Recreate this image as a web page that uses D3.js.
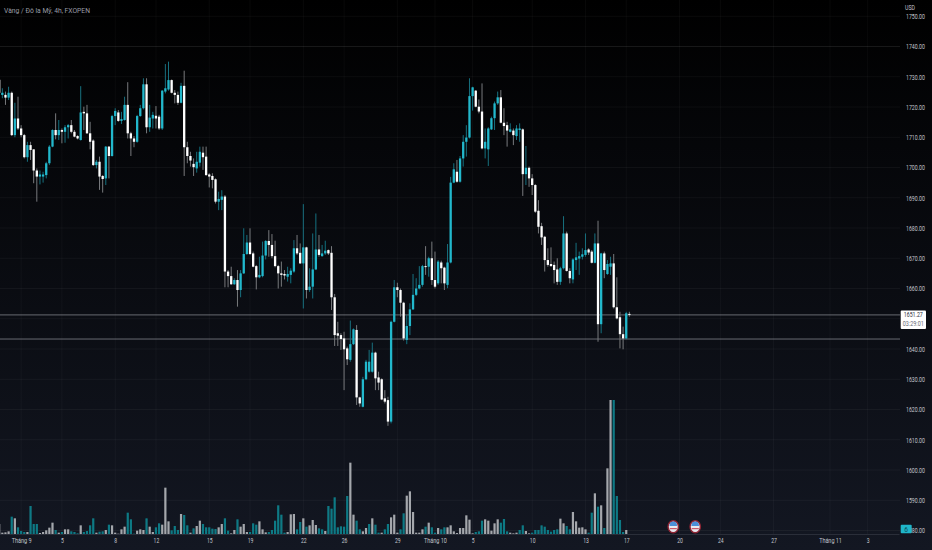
<!DOCTYPE html>
<html>
<head>
<meta charset="utf-8">
<title>Vàng / Đô la Mỹ, 4h, FXOPEN</title>
<script src="https://cdn.jsdelivr.net/npm/d3@7"></script>
<style>
html, body { margin: 0; padding: 0; background: #000; overflow: hidden; }
text { font-family: Roboto, "Liberation Sans", sans-serif; }
</style>
</head>
<body>
<svg id="chart" width="932" height="550"></svg>
<script>
// 4h candles
var opens = [
1729.0,1724.0,1724.0,1723.1,1724.7,1710.7,1716.2,1712.9,1710.7,1703.4,
1707.4,1706.0,1699.0,1697.0,1697.0,1697.5,1701.4,1706.9,1712.4,1710.7,
1712.4,1711.8,1713.3,1714.0,1711.8,1710.4,1709.1,1718.4,1717.9,1711.3,
1708.9,1700.8,1701.9,1697.2,1696.4,1706.9,1703.8,1717.0,1718.2,1715.4,
1715.7,1720.7,1711.3,1709.6,1708.5,1717.0,1719.6,1727.5,1713.3,1716.2,
1717.1,1716.8,1712.9,1725.1,1725.8,1728.9,1724.7,1724.0,1721.4,1727.0,
1706.7,1703.8,1701.2,1699.7,1701.6,1704.9,1703.6,1697.7,1697.2,1696.1,
1688.7,1689.3,1690.4,1665.6,1664.1,1661.4,1662.8,1659.5,1665.0,1671.4,
1675.2,1671.6,1667.4,1663.7,1664.1,1670.9,1675.7,1674.4,1670.7,1667.4,
1665.0,1664.8,1663.9,1664.5,1665.6,1673.3,1671.8,1668.3,1673.6,1659.5,
1660.6,1666.3,1672.9,1670.7,1671.6,1672.7,1671.8,1657.1,1645.2,1644.6,
1643.5,1640.2,1636.4,1641.6,1646.3,1624.0,1620.9,1630.0,1632.5,1632.5,
1638.8,1630.6,1630.0,1623.7,1623.1,1616.0,1649.0,1660.4,1659.5,1655.3,
1643.0,1647.6,1653.1,1657.9,1660.0,1661.2,1667.4,1667.2,1670.0,1662.8,
1661.7,1668.6,1666.9,1661.2,1668.6,1695.0,1698.6,1695.3,1703.0,1708.5,
1709.9,1723.6,1725.4,1720.1,1718.5,1706.3,1706.0,1712.6,1716.3,1721.2,
1723.2,1714.8,1714.0,1711.8,1712.2,1710.4,1712.4,1712.6,1697.8,1699.9,
1696.4,1694.2,1685.7,1680.6,1677.1,1669.4,1668.1,1667.8,1666.3,1662.2,
1666.7,1678.2,1665.8,1663.0,1669.4,1669.9,1670.5,1671.1,1672.9,1672.2,
1668.5,1674.9,1648.2,1671.6,1664.8,1667.2,1668.3,1653.8,1650.5,1644.9,1643.5,1651.6];
var highs = [
1732.4,1726.2,1725.1,1726.7,1725.1,1721.4,1723.4,1714.0,1711.1,1708.5,
1708.5,1706.0,1699.7,1699.0,1698.6,1701.9,1707.4,1712.6,1717.9,1715.7,
1712.9,1714.0,1714.4,1715.7,1712.4,1710.7,1726.9,1720.1,1720.7,1715.1,
1709.3,1702.5,1703.6,1697.5,1707.1,1707.1,1717.4,1719.6,1719.0,1718.4,
1723.4,1728.2,1711.8,1710.4,1717.4,1720.7,1729.5,1729.5,1720.7,1718.4,
1720.3,1717.4,1725.6,1734.2,1735.0,1729.1,1725.6,1725.1,1728.0,1732.0,
1708.5,1705.2,1703.0,1705.2,1706.9,1706.9,1706.9,1698.1,1698.1,1696.4,
1692.0,1692.5,1690.9,1666.1,1667.2,1663.4,1666.1,1666.1,1679.9,1677.7,
1679.9,1672.2,1667.8,1670.5,1675.5,1676.0,1679.3,1678.0,1675.8,1667.8,
1668.9,1666.1,1667.2,1666.7,1676.0,1677.7,1674.9,1687.9,1673.8,1666.7,
1678.2,1684.8,1677.7,1674.4,1675.8,1672.9,1674.0,1658.2,1649.0,1645.2,
1645.7,1640.8,1649.4,1646.8,1647.9,1624.2,1630.8,1636.4,1639.7,1642.1,
1639.1,1632.5,1630.3,1626.4,1624.2,1649.4,1662.8,1661.9,1660.0,1655.6,
1651.2,1655.1,1664.8,1663.4,1667.4,1667.8,1674.0,1670.5,1675.5,1672.2,
1669.4,1669.2,1667.2,1674.7,1696.9,1701.4,1702.5,1703.8,1710.7,1714.0,
1729.5,1726.7,1725.6,1722.5,1727.8,1712.9,1713.3,1716.8,1721.8,1725.1,
1725.6,1719.6,1715.1,1714.6,1712.9,1714.0,1714.6,1712.9,1707.1,1700.3,
1697.8,1694.5,1689.2,1681.7,1677.4,1673.3,1673.6,1668.9,1670.0,1667.2,
1683.9,1678.8,1666.7,1670.0,1675.1,1672.2,1673.3,1678.2,1673.3,1672.7,
1678.2,1682.4,1671.8,1672.2,1669.4,1670.5,1671.4,1663.7,1652.3,1647.4,1652.3,1652.3];
var lows = [
1724.5,1722.9,1720.7,1722.3,1710.4,1710.0,1712.4,1710.0,1703.0,1701.9,
1702.5,1694.8,1688.7,1694.4,1695.0,1696.4,1700.8,1706.7,1709.3,1709.1,
1708.0,1708.2,1709.6,1711.3,1710.0,1709.3,1708.9,1712.4,1711.1,1706.0,
1700.5,1699.7,1692.6,1691.7,1694.2,1696.4,1703.6,1714.0,1715.1,1714.4,
1715.5,1709.6,1703.8,1706.7,1708.2,1716.8,1719.2,1711.3,1711.8,1712.9,
1712.9,1712.4,1712.4,1724.5,1725.4,1724.5,1721.2,1720.7,1721.2,1697.2,
1701.4,1700.3,1697.2,1698.3,1700.3,1699.2,1697.2,1693.4,1693.1,1688.1,
1685.9,1685.9,1660.4,1660.4,1661.2,1661.2,1654.0,1657.1,1664.8,1671.1,
1671.1,1667.0,1659.7,1663.4,1663.7,1669.6,1670.5,1670.0,1667.0,1660.0,
1660.6,1663.0,1662.3,1661.7,1665.2,1671.1,1668.1,1653.4,1656.7,1658.9,
1656.7,1666.1,1670.5,1670.5,1671.1,1671.1,1652.9,1641.0,1641.0,1639.7,
1626.4,1634.7,1635.8,1641.3,1621.5,1620.9,1620.7,1629.7,1632.2,1632.2,
1626.4,1626.4,1623.1,1622.0,1614.6,1615.4,1648.8,1657.1,1650.7,1642.8,
1641.6,1644.6,1652.9,1657.5,1659.7,1660.6,1664.5,1663.9,1661.2,1660.0,
1661.2,1661.7,1659.5,1660.1,1668.3,1694.8,1695.0,1695.0,1700.3,1703.6,
1709.6,1718.8,1719.9,1717.9,1706.0,1703.0,1700.5,1712.4,1712.4,1720.7,
1714.6,1710.7,1706.9,1711.6,1707.4,1709.1,1708.5,1690.6,1694.2,1693.6,
1690.9,1685.0,1678.2,1674.4,1665.6,1667.2,1667.2,1661.7,1661.2,1661.2,
1666.3,1665.6,1661.7,1661.7,1666.1,1664.5,1669.6,1670.5,1671.1,1668.3,
1668.3,1642.4,1645.2,1663.4,1664.5,1664.5,1653.4,1649.8,1640.2,1639.9,1643.2,1650.7];
var closes = [
1724.7,1724.7,1723.1,1724.7,1710.7,1716.2,1712.9,1710.7,1703.4,1707.4,
1705.8,1699.0,1697.0,1697.7,1697.7,1701.4,1706.9,1712.4,1710.7,1712.4,
1711.8,1713.3,1714.0,1711.8,1710.2,1709.6,1718.2,1717.9,1711.3,1708.5,
1700.8,1701.9,1697.0,1696.2,1706.9,1703.8,1717.0,1718.7,1715.4,1716.0,
1720.7,1711.3,1709.6,1708.5,1717.0,1719.6,1727.5,1713.3,1716.5,1717.4,
1716.2,1712.9,1725.4,1726.2,1728.9,1724.7,1724.0,1721.4,1727.0,1706.7,
1703.8,1702.3,1700.1,1701.9,1705.2,1703.4,1697.5,1697.0,1695.9,1688.7,
1689.6,1690.4,1665.6,1664.1,1661.4,1662.8,1659.5,1665.0,1671.4,1675.2,
1671.4,1667.2,1663.7,1664.5,1670.9,1675.7,1674.4,1670.7,1667.4,1665.0,
1664.5,1664.3,1664.8,1665.9,1673.3,1671.6,1668.3,1673.6,1659.5,1660.6,
1666.3,1672.9,1671.1,1671.6,1672.5,1671.6,1657.1,1644.6,1644.4,1643.3,
1639.9,1636.6,1641.6,1646.5,1624.0,1622.0,1630.0,1635.8,1635.8,1638.8,
1630.3,1628.9,1623.3,1622.6,1616.0,1649.0,1660.4,1659.5,1655.3,1643.5,
1647.6,1653.1,1657.9,1660.0,1661.2,1667.4,1667.1,1670.0,1662.8,1660.6,
1668.9,1666.7,1661.7,1668.6,1695.0,1699.4,1695.3,1703.0,1708.5,1709.9,
1723.6,1726.5,1720.1,1718.5,1706.3,1708.5,1712.9,1716.3,1721.2,1723.2,
1714.8,1713.7,1712.2,1712.6,1710.7,1712.9,1712.9,1697.8,1699.9,1696.4,
1694.2,1685.4,1680.4,1676.9,1669.4,1667.8,1667.4,1666.1,1662.2,1666.7,
1678.2,1665.8,1663.4,1669.6,1670.3,1670.7,1671.3,1672.7,1671.9,1668.5,
1674.9,1648.2,1671.6,1666.1,1668.1,1668.3,1653.8,1650.1,1644.9,1643.5,1651.8,1651.27];

// volume (relative units) and whether its bar is teal (1) or grey (0)
var volumes = [
30,4,5,8,52,47,20,9,6,6,84,30,30,3,6,11,19,34,12,4,
6,14,14,8,6,2,26,6,9,26,47,4,7,8,12,28,26,4,1,14,
22,64,44,1,10,14,12,47,22,6,20,32,28,139,38,11,24,12,60,57,
26,4,17,24,40,30,20,20,16,15,20,30,47,10,2,12,44,22,30,6,
6,32,28,38,14,5,6,12,40,86,58,4,6,59,60,14,36,47,22,26,
42,27,17,14,9,84,76,110,20,23,22,114,214,58,40,14,8,18,30,47,
28,4,4,14,30,50,58,4,14,62,115,128,66,4,4,14,22,34,20,4,
18,14,20,20,26,8,3,18,18,56,43,2,6,8,40,44,40,10,32,44,
34,45,8,4,2,4,12,26,9,2,4,12,12,26,22,12,7,12,14,46,
32,24,14,66,38,19,20,14,4,64,122,82,86,18,197,402,402,114,42,6,12,0];
var volumeTeal = [
0,0,0,0,1,0,1,1,1,0,1,1,1,0,0,0,0,0,1,0,
1,0,0,1,1,1,0,1,1,1,1,0,1,1,0,1,0,0,0,0,
0,1,1,1,0,0,0,1,0,0,1,1,0,0,0,1,1,1,0,1,
1,0,1,0,0,1,1,1,1,1,0,0,1,1,0,0,1,0,0,0,
1,1,1,0,0,0,1,1,1,1,1,1,0,0,0,1,1,0,1,0,
0,0,1,1,0,1,1,1,1,1,1,1,0,0,1,1,0,0,1,0,
1,1,0,1,1,0,0,0,1,1,0,0,0,0,0,0,1,0,1,1,
0,1,1,0,0,0,0,0,0,0,0,0,1,1,1,0,0,0,0,0,
1,1,1,0,0,0,1,1,0,0,1,1,1,1,1,1,1,1,1,0,
0,1,1,0,0,0,0,0,1,1,0,1,0,1,0,0,1,1,1,1,0,0];

// 1650 has a grid line but its label sits behind the price tag
var gridPrices = [1750,1740,1730,1720,1710,1700,1690,1680,1670,1660,1650,1640,1630,1620,1610,1600,1590,1580];
var priceTicks = [1750,1740,1730,1720,1710,1700,1690,1680,1670,1660,1640,1630,1620,1610,1600,1590,1580];
var timeTickBars = [7,20,37,50,67,80,97,110,127,139,151,170,187,200,217,230,247,265,277];
var timeTickLabels = ["Tháng 9","5","8","12","15","19","22","26","29","Tháng 10","5","10","13","17","20","24","27","Tháng 11","3"];
var lastPrice = 1651.27;
var levelPrice = 1643.3;
var eventBars = [215,222];

var svg = d3.select("#chart");
var width = 932, height = 550, plotRight = 900, plotBottom = 534;

var x = d3.scaleLinear().domain([0,287]).range([-0.8,899]);
var y = d3.scaleLinear().domain([1580,1750]).range([530.5,16.25]);
var v = d3.scaleLinear().domain([0,402]).range([plotBottom,400]);

var defs = svg.append("defs");
var bg = defs.append("linearGradient").attr("id","bg").attr("x1",0).attr("x2",0).attr("y1",0).attr("y2",1);
bg.append("stop").attr("offset","0%").attr("stop-color","#000000");
bg.append("stop").attr("offset","100%").attr("stop-color","#131722");
defs.append("filter").attr("id","soft").append("feGaussianBlur").attr("stdDeviation",0.3);
defs.append("clipPath").attr("id","plot").append("rect").attr("width",plotRight).attr("height",plotBottom);

svg.append("rect").attr("width",width).attr("height",height).attr("fill","url(#bg)");

// grid
var grid = svg.append("g").attr("clip-path","url(#plot)");
grid.selectAll(".h").data(gridPrices).enter().append("line")
	.attr("x1",0).attr("x2",plotRight)
	.attr("y1",function(d){return y(d)}).attr("y2",function(d){return y(d)})
	.attr("stroke",function(d){return d == 1740 ? "rgba(255,255,255,0.09)" : "rgba(255,255,255,0.045)"});
grid.selectAll(".v").data(timeTickBars).enter().append("line")
	.attr("y1",0).attr("y2",plotBottom)
	.attr("x1",function(d){return x(d)}).attr("x2",function(d){return x(d)})
	.attr("stroke","rgba(255,255,255,0.035)");

// volume
var idx = d3.range(opens.length);
var marks = svg.append("g").attr("clip-path","url(#plot)").attr("filter","url(#soft)");
marks.selectAll(".vol").data(idx).enter().append("rect")
	.attr("x",function(i){return x(i)-1.1})
	.attr("width",2.2)
	.attr("y",function(i){return v(volumes[i])})
	.attr("height",function(i){return plotBottom-v(volumes[i])})
	.attr("fill",function(i){return volumeTeal[i] ? "#0f7a85" : "#a4a7ac"});

// level lines
marks.selectAll(".level").data([lastPrice,levelPrice]).enter().append("line")
	.attr("x1",0).attr("x2",plotRight)
	.attr("y1",function(d){return y(d)}).attr("y2",function(d){return y(d)})
	.attr("stroke","#a6a8ae").attr("stroke-width",0.6);

// candles
marks.selectAll(".wick").data(idx).enter().append("line")
	.attr("x1",function(i){return x(i)}).attr("x2",function(i){return x(i)})
	.attr("y1",function(i){return y(highs[i])}).attr("y2",function(i){return y(lows[i])})
	.attr("stroke",function(i){return closes[i] >= opens[i] ? "#16707f" : "#77797c"})
	.attr("stroke-width",1);
marks.selectAll(".body").data(idx).enter().append("rect")
	.attr("x",function(i){return x(i)-1.15})
	.attr("width",2.3)
	.attr("y",function(i){return y(Math.max(opens[i],closes[i]))})
	.attr("height",function(i){return Math.max(1,Math.abs(y(opens[i])-y(closes[i])))})
	.attr("fill",function(i){return closes[i] >= opens[i] ? "#22b8cc" : "#ffffff"});

// axes
var priceAxis = svg.append("g").attr("transform","translate(" + plotRight + ",0)")
	.call(d3.axisRight(y).tickValues(priceTicks).tickSize(0).tickPadding(6).tickFormat(d3.format(".2f")));
priceAxis.select(".domain").remove();
priceAxis.selectAll("text")
	.attr("fill","#c2c5cc").attr("font-size",7.4)
	.attr("textLength",19).attr("lengthAdjust","spacingAndGlyphs");

var timeAxis = svg.append("g").attr("transform","translate(0," + plotBottom + ")")
	.call(d3.axisBottom(x).tickValues(timeTickBars).tickSize(0).tickPadding(4)
		.tickFormat(function(d,i){return timeTickLabels[i]}));
timeAxis.select(".domain").attr("stroke","#2a2e39");
timeAxis.selectAll("text")
	.attr("fill","#c2c5cc").attr("font-size",7.4)
	.attr("textLength",function(d,i){return timeTickLabels[i].length * 2.85})
	.attr("lengthAdjust","spacingAndGlyphs");

svg.append("text").attr("x",4).attr("y",13).attr("fill","#9a9da6").attr("font-size",7.2)
	.attr("textLength",86).attr("lengthAdjust","spacingAndGlyphs")
	.text("Vàng / Đô la Mỹ, 4h, FXOPEN");
svg.append("text").attr("x",905).attr("y",9.5).attr("fill","#c2c5cc").attr("font-size",7.2)
	.attr("textLength",10).attr("lengthAdjust","spacingAndGlyphs").text("USD");

// last price tag
var tag = svg.append("g");
tag.append("rect").attr("x",900.7).attr("y",y(lastPrice)-4.5).attr("width",25.3).attr("height",18.5).attr("fill","#ffffff").attr("rx",1);
tag.append("text").attr("x",913.3).attr("y",y(lastPrice)+2.2).attr("text-anchor","middle")
	.attr("fill","#2a2e39").attr("font-size",6.8).attr("textLength",19).attr("lengthAdjust","spacingAndGlyphs")
	.text(d3.format(".2f")(lastPrice));
tag.append("text").attr("x",913.3).attr("y",y(lastPrice)+11).attr("text-anchor","middle")
	.attr("fill","#6a6d78").attr("font-size",6.8).attr("textLength",21).attr("lengthAdjust","spacingAndGlyphs")
	.text("03:29:01");

// alert count badge
svg.append("rect").attr("x",900.7).attr("y",524.7).attr("width",11).attr("height",8.5).attr("fill","#1fb5c9").attr("rx",1);
svg.append("text").attr("x",906.2).attr("y",531.6).attr("text-anchor","middle").attr("fill","#0d4a55").attr("font-size",6.6).text("6");

// economic event icons
var events = svg.selectAll(".event").data(eventBars).enter().append("g")
	.attr("transform",function(d){return "translate(" + x(d) + ",526.7)"});
events.append("ellipse").attr("rx",5.2).attr("ry",6).attr("fill","#e8e8ee").attr("stroke","#8e2433").attr("stroke-width",1.4);
events.append("path").attr("d","M-3.8,-0.8 A3.8,4.4 0 0,1 3.8,-0.8 Z").attr("fill","#4a8fd8");
events.append("rect").attr("x",-3.6).attr("y",1.4).attr("width",7.2).attr("height",1.1).attr("fill","#c94a5a");
</script>
</body>
</html>
